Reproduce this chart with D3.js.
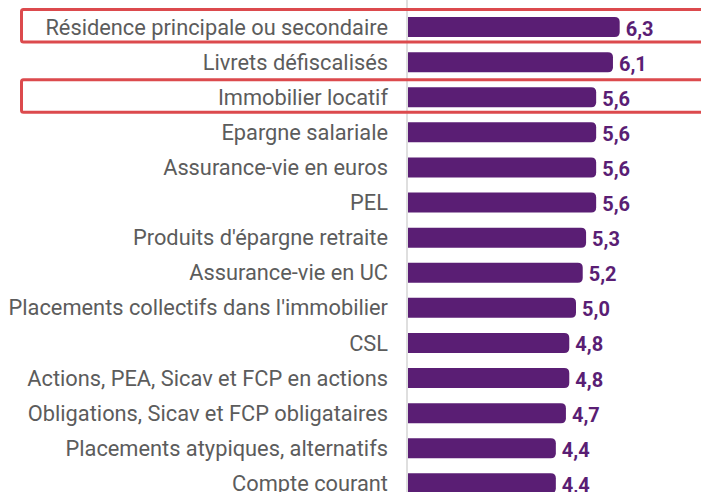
<!DOCTYPE html>
<html>
<head>
<meta charset="utf-8">
<script src="https://cdn.jsdelivr.net/npm/d3@7"></script>
<style>
  body { margin: 0; background: #fff; }
  svg { display: block; font-family: Roboto, "Noto Sans", sans-serif; }
</style>
</head>
<body>
<div id="chart"></div>
<script>
let categories = [
    "Résidence principale ou secondaire",
    "Livrets défiscalisés",
    "Immobilier locatif",
    "Epargne salariale",
    "Assurance-vie en euros",
    "PEL",
    "Produits d'épargne retraite",
    "Assurance-vie en UC",
    "Placements collectifs dans l'immobilier",
    "CSL",
    "Actions, PEA, Sicav et FCP en actions",
    "Obligations, Sicav et FCP obligataires",
    "Placements atypiques, alternatifs",
    "Compte courant"
]
let values = [6.3, 6.1, 5.6, 5.6, 5.6, 5.6, 5.3, 5.2, 5.0, 4.8, 4.8, 4.7, 4.4, 4.4]
let highlighted = ["Résidence principale ou secondaire", "Immobilier locatif"]

let width = 701
let height = 492
let purple = "#5a1e74"

let svg = d3.select("#chart").append("svg")
    .attr("width", width)
    .attr("height", height)

let x = d3.scaleLinear()
    .domain([0, 6.25])
    .range([408, 618])

let y = d3.scaleBand()
    .domain(categories)
    .range([9.5, 9.5 + categories.length * 35.1])
    .paddingInner(0.43)
    .paddingOuter(0.215)

let fmt = (v) => d3.format(".1f")(v).replace(".", ",")

// axis line
svg.append("line")
    .attr("x1", 407).attr("x2", 407)
    .attr("y1", 0).attr("y2", height)
    .attr("stroke", "#d4d4d4")
    .attr("stroke-width", 1.5)

// bars, rounded on the right only
let r = 5
svg.append("g").selectAll("path")
    .data(categories)
    .join("path")
    .attr("fill", purple)
    .attr("d", (d, i) => {
        let x0 = x(0), x1 = x(values[i]), y0 = y(d), h = y.bandwidth()
        return `M${x0},${y0}H${x1 - r}Q${x1},${y0} ${x1},${y0 + r}V${y0 + h - r}Q${x1},${y0 + h} ${x1 - r},${y0 + h}H${x0}Z`
    })

// category labels
svg.append("g").selectAll("text")
    .data(categories)
    .join("text")
    .attr("x", 388)
    .attr("y", d => y(d) + y.bandwidth() / 2)
    .attr("dy", "0.35em")
    .attr("text-anchor", "end")
    .attr("font-size", 21.8)
    .attr("fill", "#5c5c5c")
    .text(d => d)

// value labels
svg.append("g").selectAll("text")
    .data(categories)
    .join("text")
    .attr("x", (d, i) => x(values[i]) + 6)
    .attr("y", d => y(d) + y.bandwidth() / 2 + 1.5)
    .attr("dy", "0.35em")
    .attr("font-size", 20)
    .attr("font-weight", "bold")
    .attr("fill", purple)
    .text((d, i) => fmt(values[i]))

// red highlight frames
svg.append("g").selectAll("rect")
    .data(highlighted)
    .join("rect")
    .attr("x", 21.5)
    .attr("y", d => y(d) - 7.5)
    .attr("width", 700)
    .attr("height", 32.5)
    .attr("rx", 2)
    .attr("fill", "none")
    .attr("stroke", "#dc4a4d")
    .attr("stroke-width", 3)
</script>
</body>
</html>
